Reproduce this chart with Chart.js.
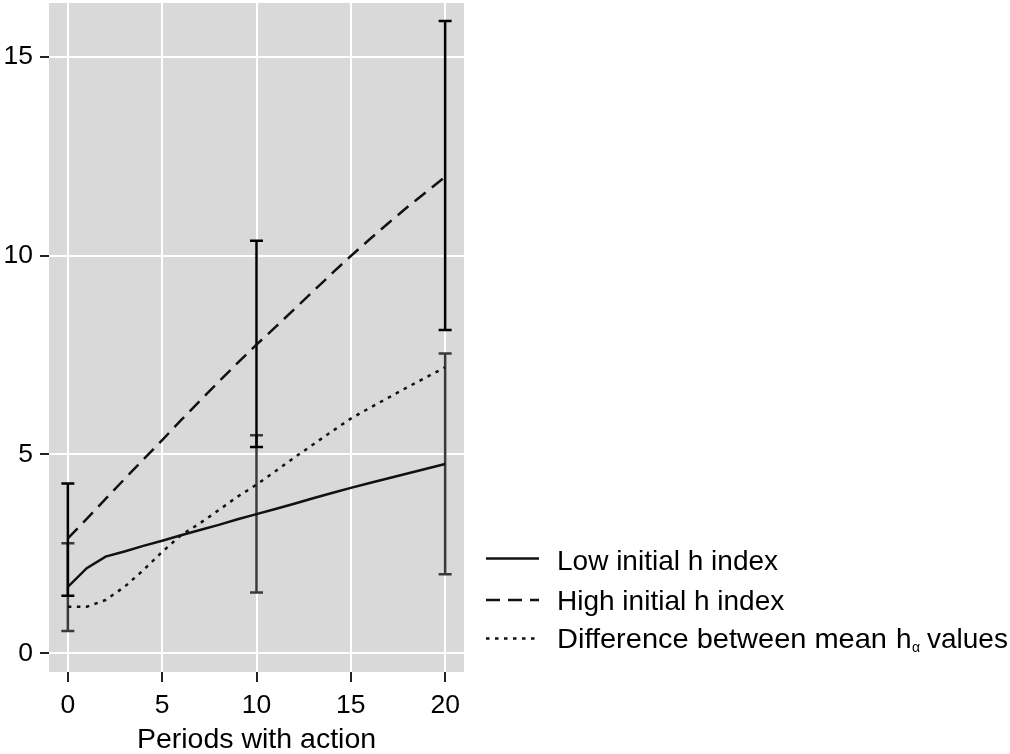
<!DOCTYPE html>
<html>
<head>
<meta charset="utf-8">
<script src="https://cdn.jsdelivr.net/npm/chart.js@4.4.1/dist/chart.umd.min.js"></script>
<style>
  html, body { margin: 0; padding: 0; background: #fff; }
  canvas { display: block; }
</style>
</head>
<body>
<canvas id="hChart" width="1010" height="754"></canvas>
<script>
// periods with action (x) and the three mean curves
const periods = [0, 1, 2, 3, 4, 5, 6, 7, 8, 9, 10, 11, 12, 13, 14, 15, 16, 17, 18, 19, 20];
const lowMean = [1.67, 2.14, 2.43, 2.56, 2.70, 2.83, 2.97, 3.10, 3.23, 3.37, 3.50,
                 3.63, 3.76, 3.90, 4.03, 4.16, 4.28, 4.40, 4.52, 4.64, 4.76];
const highMean = [2.89, 3.38, 3.88, 4.38, 4.87, 5.36, 5.86, 6.35, 6.83, 7.30, 7.76,
                  8.20, 8.65, 9.10, 9.55, 9.99, 10.41, 10.82, 11.22, 11.60, 11.98];
const diffMean = [1.17, 1.17, 1.34, 1.67, 2.09, 2.55, 2.97, 3.27, 3.60, 3.94, 4.24,
                  4.58, 4.92, 5.25, 5.58, 5.90, 6.17, 6.43, 6.69, 6.94, 7.19];

// confidence intervals drawn at three periods
const ciPeriods = [0, 10, 20];
const lowLower = [0.56, 1.53, 1.99];
const lowUpper = [2.77, 5.48, 7.54];
const highLower = [1.45, 5.19, 8.13];
const highUpper = [4.27, 10.37, 15.90];

const xTicks = [0, 5, 10, 15, 20];
const yTicks = [0, 5, 10, 15];

const labels = ['Low initial h index', 'High initial h index', 'Difference between mean'];
const FONT = '"Liberation Sans", Arial, sans-serif';

function toPoints(xs, ys) {
    return xs.map((x, i) => ({ x: x, y: ys[i] }));
}

// grey plot background
const plotBackground = {
    id: 'plotBackground',
    beforeDraw(chart) {
        const { ctx, chartArea: a } = chart;
        ctx.save();
        ctx.fillStyle = '#d9d9d9';
        ctx.fillRect(a.left, a.top, a.right - a.left, a.bottom - a.top);
        ctx.restore();
    }
};

// capped error bars
const errorBars = {
    id: 'errorBars',
    beforeDatasetsDraw(chart) {
        const { ctx, scales } = chart;
        const sets = [
            { lo: lowLower, hi: lowUpper, color: '#3a3a3a' },
            { lo: highLower, hi: highUpper, color: '#000' }
        ];
        ctx.save();
        ctx.lineWidth = 2.5;
        sets.forEach((s) => {
            ctx.strokeStyle = s.color;
            ciPeriods.forEach((p, i) => {
                const x = scales.x.getPixelForValue(p);
                const y1 = scales.y.getPixelForValue(s.lo[i]);
                const y2 = scales.y.getPixelForValue(s.hi[i]);
                ctx.beginPath();
                ctx.moveTo(x, y1);
                ctx.lineTo(x, y2);
                ctx.moveTo(x - 6.5, y1);
                ctx.lineTo(x + 6.5, y1);
                ctx.moveTo(x - 6.5, y2);
                ctx.lineTo(x + 6.5, y2);
                ctx.stroke();
            });
        });
        ctx.restore();
    }
};

// legend on the right, with subscript alpha on the last entry
const sideLegend = {
    id: 'sideLegend',
    afterDraw(chart) {
        const ctx = chart.ctx;
        const lineY = [558.5, 600, 638.5];
        const baseY = [569.5, 610, 647.5];
        ctx.save();
        chart.data.datasets.forEach((ds, i) => {
            ctx.strokeStyle = ds.borderColor;
            ctx.lineWidth = ds.borderWidth;
            ctx.setLineDash(ds.borderDash || []);
            ctx.beginPath();
            ctx.moveTo(486, lineY[i]);
            ctx.lineTo(539, lineY[i]);
            ctx.stroke();
            ctx.setLineDash([]);
            ctx.fillStyle = '#000';
            ctx.textBaseline = 'alphabetic';
            ctx.textAlign = 'left';
            ctx.font = '28px ' + FONT;
            if (i === 2) {
                // the source text is a little wider here, stretch it to fit
                const w = ctx.measureText(ds.label).width;
                ctx.save();
                ctx.translate(557, baseY[i]);
                ctx.scale((887 - 557) / w, 1);
                ctx.fillText(ds.label, 0, 0);
                ctx.restore();
                ctx.fillText('h', 896, baseY[i]);
                ctx.fillText('values', 927, baseY[i]);
                ctx.font = '14px ' + FONT;
                ctx.fillText('α', 912, baseY[i] + 4);
            } else {
                ctx.fillText(ds.label, 557, baseY[i]);
            }
        });
        ctx.restore();
    }
};

function makeDataset(label, values, dash) {
    return {
        label: label,
        data: toPoints(periods, values),
        borderColor: '#111',
        borderWidth: 2.5,
        borderDash: dash,
        pointRadius: 0,
        tension: 0,
        fill: false
    };
}

const ctx = document.getElementById('hChart').getContext('2d');
const chart = new Chart(ctx, {
    type: 'line',
    data: {
        datasets: [
            makeDataset(labels[0], lowMean, []),
            makeDataset(labels[1], highMean, [14, 8]),
            makeDataset(labels[2], diffMean, [3.5, 5.5])
        ]
    },
    options: {
        responsive: false,
        animation: false,
        layout: { padding: { left: 0, right: 546, top: 3, bottom: 0 } },
        plugins: {
            legend: { display: false },
            tooltip: { enabled: false }
        },
        scales: {
            x: {
                type: 'linear',
                min: -1,
                max: 21,
                afterBuildTicks: (scale) => { scale.ticks = xTicks.map((v) => ({ value: v })); },
                afterFit: (scale) => {
                    scale.height = 82;
                    scale.paddingLeft = 0;
                    scale.paddingRight = 0;
                },
                grid: { color: '#fff', lineWidth: 2, tickColor: '#222', tickWidth: 2, tickLength: 10 },
                border: { display: false },
                ticks: { color: '#000', font: { family: FONT, size: 26.5 }, padding: 8, maxRotation: 0 },
                title: {
                    display: true,
                    text: 'Periods with action',
                    color: '#000',
                    font: { family: FONT, size: 28.5 },
                    padding: { top: 0, bottom: -3 }
                }
            },
            y: {
                min: -0.47,
                max: 16.35,
                afterBuildTicks: (scale) => { scale.ticks = yTicks.map((v) => ({ value: v })); },
                afterFit: (scale) => {
                    scale.width = 49;
                    scale.paddingTop = 0;
                    scale.paddingBottom = 0;
                },
                grid: { color: '#fff', lineWidth: 2, tickColor: '#222', tickWidth: 2, tickLength: 9 },
                border: { display: false },
                ticks: { color: '#000', font: { family: FONT, size: 26.5 }, padding: 7 }
            }
        }
    },
    plugins: [plotBackground, errorBars, sideLegend]
});
</script>
</body>
</html>
